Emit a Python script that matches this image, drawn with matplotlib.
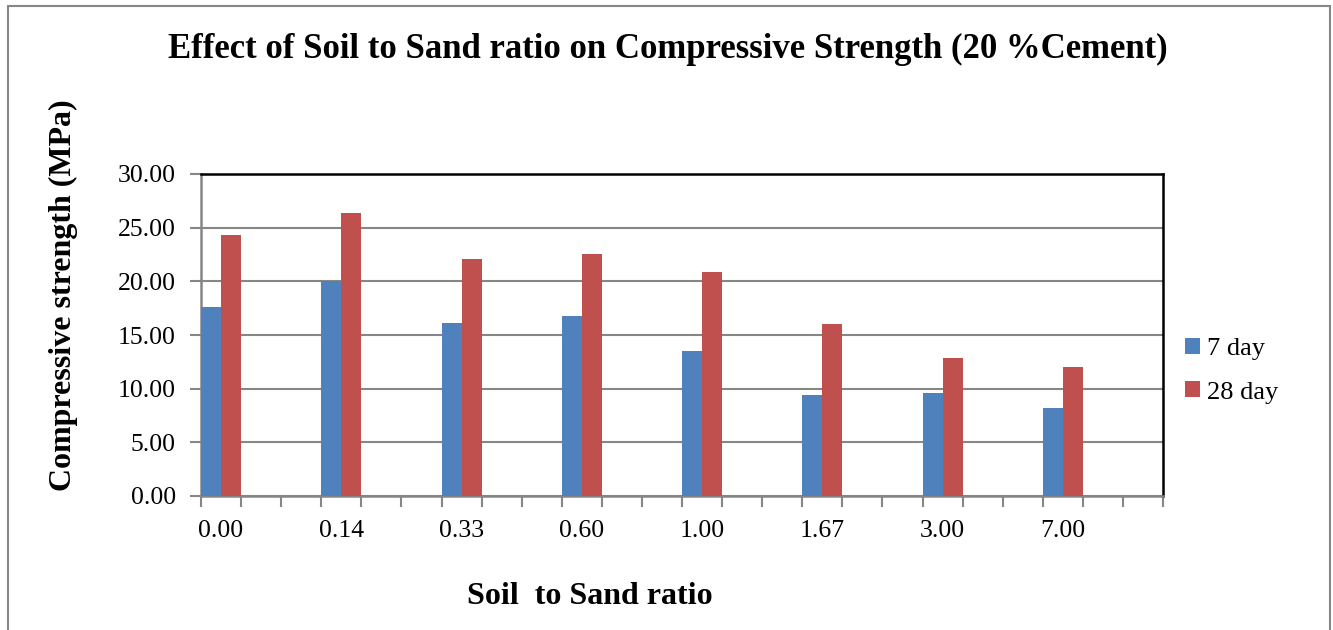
import matplotlib
matplotlib.use("Agg")
import matplotlib.pyplot as plt
from matplotlib.patches import Rectangle
import numpy as np

categories = ["0.00", "0.14", "0.33", "0.60", "1.00", "1.67", "3.00", "7.00"]
day7 = [17.65, 20.00, 16.15, 16.77, 13.51, 9.44, 9.60, 8.20]
day28 = [24.32, 26.34, 22.09, 22.58, 20.88, 16.00, 12.86, 12.00]
series_names = ["7 day", "28 day"]
yticks = [0, 5, 10, 15, 20, 25, 30]

W, H = 1333, 630
fig = plt.figure(figsize=(W / 100, H / 100), dpi=100)
plt.rcParams['font.family'] = ['Liberation Serif', 'DejaVu Serif']

# outer chart border
fig.patches.append(Rectangle((8 / W, (H - 640) / H), (1330 - 8) / W, (640 - 6) / H,
                             transform=fig.transFigure, fill=False,
                             edgecolor='#868686', linewidth=1.5))

x0, x1, ytop, ybot = 201, 1163, 174, 496
ax = fig.add_axes([x0 / W, (H - ybot) / H, (x1 - x0) / W, (ybot - ytop) / H])

n_slots = 24
pos = np.arange(len(categories)) * 3
blue = '#4F81BD'
red = '#C0504D'
ax.bar(pos - 0.25, day7, width=0.5, color=blue, label=series_names[0], zorder=3)
ax.bar(pos + 0.25, day28, width=0.5, color=red, label=series_names[1], zorder=3)

ax.set_xlim(-0.5, n_slots - 0.5)
ax.set_ylim(0, 30)
ax.set_yticks(yticks)
ax.set_yticklabels([f"{v:.2f}" for v in yticks])
ax.yaxis.grid(True, color='#868686', linewidth=1.5, zorder=0)
ax.set_axisbelow(True)

ax.set_xticks(np.arange(n_slots + 1) - 0.5)
ax.set_xticklabels([])
ax.set_xticks(pos, minor=True)
ax.set_xticklabels(categories, minor=True)
ax.tick_params(axis='x', which='major', length=8, width=1.5, color='#868686', direction='out')
ax.tick_params(axis='x', which='minor', length=0, pad=17, labelsize=18.5)
ax.tick_params(axis='y', length=8, width=1.5, color='#868686', pad=10, labelsize=18.5)

for s in ['left', 'bottom']:
    ax.spines[s].set_color('#868686')
    ax.spines[s].set_linewidth(1.8)
for s in ['top', 'right']:
    ax.spines[s].set_color('black')
    ax.spines[s].set_linewidth(1.8)

fig.text(668 / W, 1 - 49 / H, "Effect of Soil to Sand ratio on Compressive Strength (20 %Cement)",
         ha='center', va='center', fontsize=25, fontweight='bold')
fig.text(63 / W, 1 - 295 / H, "Compressive strength (MPa)", rotation=90,
         ha='center', va='center', fontsize=23, fontweight='bold')
fig.text(590 / W, 1 - 596 / H, "Soil  to Sand ratio",
         ha='center', va='center', fontsize=23, fontweight='bold')

leg = fig.legend(loc='upper left', bbox_to_anchor=(1185 / W, 1 - 338 / H),
                 frameon=False, fontsize=19, handlelength=0.55, handleheight=0.55,
                 handletextpad=0.3, labelspacing=0.8, borderaxespad=0, borderpad=0)

fig.savefig("out.png", dpi=100)
